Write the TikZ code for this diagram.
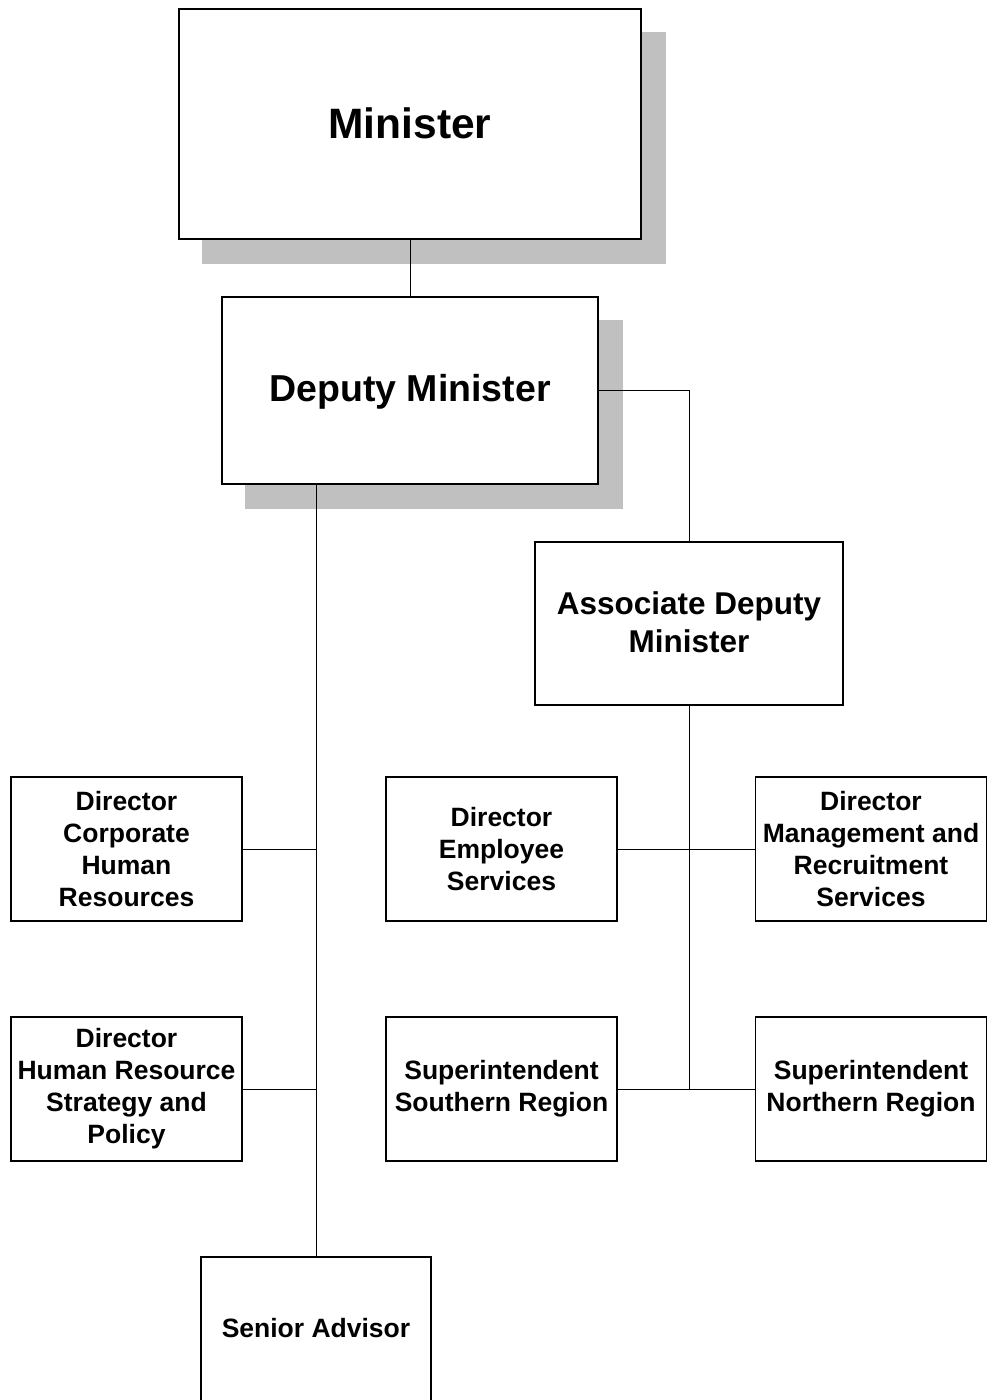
\documentclass[tikz,border=0pt]{standalone}
\usepackage{fontspec}
\setmainfont{Liberation Sans}
\definecolor{shadowgray}{HTML}{C0C0C0}
\pgfdeclarelayer{bg}
\pgfsetlayers{bg,main}
\begin{document}
\begin{tikzpicture}[x=1bp,y=-1bp,
  box/.style={draw,line width=1.6bp,fill=white,align=center,inner sep=0pt,
    font=\bfseries\fontsize{26.5bp}{32bp}\selectfont},
  smallbox/.style={box,minimum width=231bp,minimum height=144bp},
  conn/.style={line width=1bp},
  label/.style={align=center,inner sep=0pt},
  shadowfill/.style={fill=shadowgray}]
\useasboundingbox (0,0) rectangle (987,1400);

\node[box,minimum width=462bp,minimum height=230bp] (min) at (410,124) {};
\node[label,font=\bfseries\fontsize{42.5bp}{48bp}\selectfont] (mintext) at (410,123) {Minister};
\node[box,minimum width=376bp,minimum height=187bp] (dep) at (410,390.5) {};
\node[label,font=\bfseries\fontsize{37.5bp}{44bp}\selectfont] (deptext) at (410,392) {Deputy Minister};
\node[box,minimum width=308bp,minimum height=163bp] (assoc) at (689,623.5) {};
\node[label,font=\bfseries\fontsize{31.5bp}{38bp}\selectfont] (assoctext) at (689,622) {Associate Deputy\\Minister};

\node[smallbox] (dcor) at (126.5,849) {Director\\Corporate\\Human\\Resources};
\node[smallbox] (des) at (501.5,849) {Director\\Employee\\Services};
\node[smallbox] (dmr) at (871,849) {Director\\Management and\\Recruitment\\Services};
\node[smallbox] (dhrs) at (126.5,1089) {Director\\Human Resource\\Strategy and\\Policy};
\node[smallbox] (ssr) at (501.5,1089) {Superintendent\\Southern Region};
\node[smallbox] (snr) at (871,1089) {Superintendent\\Northern Region};
\node[box,minimum width=230bp,minimum height=146bp] (sen) at (316,1330) {};
\node[label,font=\bfseries\fontsize{26.5bp}{32bp}\selectfont] (sentext) at (316,1328) {Senior Advisor};

\begin{pgfonlayer}{bg}
\fill[shadowfill] ([shift={(24,24)}]min.south west) rectangle ([shift={(24,24)}]min.north east);
\fill[shadowfill] ([shift={(24,24)}]dep.south west) rectangle ([shift={(24,24)}]dep.north east);
\end{pgfonlayer}

\draw[conn] (min.south) -- (dep.north);
\draw[conn] (dep.east) -| (assoc.north);
\draw[conn] (dep.south -| sen.north) -- (sen.north);
\draw[conn] (dcor.east) -- (dcor.east -| sen.north);
\draw[conn] (dhrs.east) -- (dhrs.east -| sen.north);
\draw[conn] (assoc.south) -- (assoc.south |- ssr.east);
\draw[conn] (des.east) -- (dmr.west);
\draw[conn] (ssr.east) -- (snr.west);
\end{tikzpicture}
\end{document}
